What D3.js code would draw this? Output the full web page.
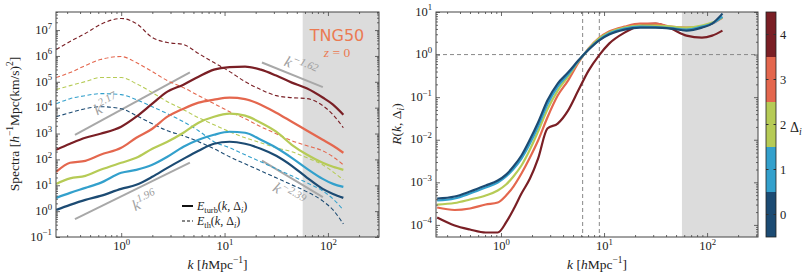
<!DOCTYPE html>
<html><head><meta charset="utf-8">
<script src="https://cdn.jsdelivr.net/npm/d3@7"></script>
<style>body{margin:0;background:#fff} svg{display:block}</style>
</head><body><svg id="c" width="810" height="280"></svg>
<script>
// ---------------- DATA ----------------
const deltas = [0, 1, 2, 3, 4];
const deltaColors = ["#1c4b73", "#33a0cc", "#b6cb56", "#e4674e", "#7a1f25"];

// left panel: spectra
const kSpec = [0.235, 0.32, 0.45, 0.63, 1.0, 1.4, 2.0, 2.8, 4.0, 5.6, 7.9, 11.2, 15.8, 22.4, 31.6, 44.7, 63, 89, 112, 141];
const turb0 = [1.11, 1.74, 2.72, 3.88, 7.25, 10.4, 21.2, 47.2, 105, 215, 403, 481, 403, 258, 138, 56.5, 19.4, 7.25, 4.64, 3.25];
const turb1 = [3.25, 5.07, 7.92, 12.4, 30.3, 39.5, 61.8, 126, 308, 575, 898, 1175, 1075, 575, 282, 115, 43.3, 17.7, 11.3, 8.67];
const turb2 = [11.3, 18.5, 23.1, 39.5, 73.8, 115, 258, 481, 1075, 2620, 4480, 5850, 4900, 2620, 1175, 368, 151, 73.8, 51.7, 39.5];
const turb3 = [33, 74, 88, 151, 282, 687, 1535, 4480, 9140, 15600, 20400, 24400, 21400, 13100, 6400, 2860, 1285, 575, 337, 180];
const turb4 = [236, 403, 687, 982, 1835, 4480, 14300, 41700, 77600, 158000, 295000, 370000, 387000, 295000, 174000, 93000, 55000, 24700, 13200, 5370];
const th0 = [4480, 6400, 9140, 10900, 9140, 4900, 2400, 1285, 822, 481, 258, 126, 67.5, 36.1, 19.4, 10.4, 5.55, 2.48, 1.11, 0.319];
const th1 = [14300, 22300, 29200, 34900, 31900, 20400, 10900, 5850, 2860, 1285, 481, 282, 151, 80.8, 43.3, 23.1, 12.4, 6.07, 2.97, 1.11];
const th2 = [49900, 71300, 102000, 146000, 146000, 85100, 38100, 17100, 8360, 4090, 2190, 1175, 687, 440, 282, 197, 115, 61.8, 33, 16.2];
const th3 = [146000, 228000, 425000, 725000, 948000, 555000, 248000, 111000, 59600, 29200, 14300, 7000, 3750, 1835, 982, 526, 337, 215, 126, 61.8];
const th4 = [1.77e6, 3.61e6, 7.38e6, 1.65e7, 2.82e7, 1.80e7, 5.16e6, 3.30e6, 2.77e6, 1.24e6, 5.55e5, 2.48e5, 1.02e5, 4.99e4, 2.92e4, 2.44e4, 2.23e4, 1.20e4, 5360, 1680];
const turbSeries = [turb0, turb1, turb2, turb3, turb4];
const thSeries = [th0, th1, th2, th3, th4];

// power-law guide lines: exponent, amplitude (value at k=1), k range
const guideSlopes = [2.17, 1.96, -1.62, -2.39];
const guideAmps = [8300, 3.72, 9.0e7, 1.61e5];
const guideK0 = [0.357, 0.357, 23.0, 23.0];
const guideK1 = [4.62, 4.62, 89.3, 89.3];
const guideLabels = ["2.17", "1.96", "\u22121.62", "\u22122.39"];

// right panel: ratio R(k, Δi)
const kR = [0.24, 0.355, 0.5, 0.71, 0.93, 1.12, 1.32, 1.58, 1.91, 2.29, 2.82, 3.55, 4.47, 5.62, 7.08, 8.91, 11.2, 15.8, 22.4, 31.6, 44.7, 63.1, 89.1, 112, 141];
const R0 = [4.17e-4, 4.64e-4, 6.08e-4, 8.41e-4, 1.10e-3, 1.52e-3, 2.35e-3, 4.26e-3, 1.01e-2, 2.54e-2, 8.32e-2, 0.209, 0.378, 0.723, 1.30, 2.13, 2.95, 3.86, 4.30, 4.30, 4.08, 3.66, 4.30, 5.34, 9.17];
const R1 = [3.74e-4, 4.17e-4, 5.46e-4, 7.55e-4, 9.89e-4, 1.37e-3, 2.05e-3, 3.62e-3, 8.14e-3, 2.04e-2, 6.70e-2, 0.177, 0.339, 0.70, 1.33, 2.19, 3.11, 4.08, 4.54, 4.42, 4.19, 3.86, 4.54, 5.34, 7.80];
const R2 = [3.01e-4, 3.27e-4, 3.95e-4, 4.90e-4, 6.42e-4, 8.88e-4, 1.37e-3, 2.48e-3, 5.89e-3, 1.56e-2, 5.12e-2, 0.143, 0.305, 0.68, 1.36, 2.38, 3.28, 4.30, 4.80, 4.80, 4.54, 4.30, 4.80, 5.64, 7.39];
const R3 = [2.56e-4, 2.24e-4, 2.43e-4, 3.01e-4, 3.36e-4, 4.90e-4, 7.97e-4, 1.61e-3, 3.82e-3, 9.57e-3, 3.32e-2, 0.109, 0.245, 0.64, 1.40, 2.45, 3.47, 4.54, 5.34, 5.34, 4.54, 4.30, 4.54, 5.34, 7.39];
const R4 = [1.49e-4, 9.69e-5, 7.80e-5, 6.63e-5, 6.63e-5, 1.14e-4, 2.30e-4, 5.46e-4, 1.23e-3, 3.62e-3, 1.83e-2, 2.40e-2, 4.84e-2, 0.143, 0.421, 0.948, 1.81, 3.28, 4.80, 5.34, 4.08, 2.79, 2.51, 2.79, 3.66];
const RSeries = [R0, R1, R2, R3, R4];
const kCrossLines = [6.2, 9.0];
const RRef = 1;

const kShadeStart = 57;
const xTickExps = [0, 1, 2];
const yLeftTickExps = [-1, 0, 1, 2, 3, 4, 5, 6, 7];
const yRightTickExps = [-4, -3, -2, -1, 0, 1];

// ---------------- LAYOUT ----------------
const serif = "'Liberation Serif','DejaVu Serif',serif";
const svg = d3.select('#c');
const PL = {x0: 56, x1: 379, y0: 12, y1: 237};
const PR = {x0: 436, x1: 758, y0: 12, y1: 237};
const kDomain = [0.234, 312];
const xL = d3.scaleLog().domain(kDomain).range([PL.x0, PL.x1]);
const yL = d3.scaleLog().domain([0.1, 5.0e7]).range([PL.y1, PL.y0]);
const xR = d3.scaleLog().domain(kDomain).range([PR.x0, PR.x1]);
const yR = d3.scaleLog().domain([5.2e-5, 10]).range([PR.y1, PR.y0]);

function rich(sel, parts, base) {
  let cur = 0;
  parts.forEach(p => {
    const ts = sel.append('tspan').text(p.t);
    let off = 0, size = base;
    if (p.sup) { off = -0.42 * base; size = 0.7 * base; }
    if (p.sub) { off = 0.22 * base; size = 0.7 * base; }
    const dy = off - cur;
    if (dy) ts.attr('dy', dy);
    cur = off;
    ts.attr('font-size', size);
    if (p.i) ts.attr('font-style', 'italic');
  });
}
const expStr = e => (e < 0 ? '\u2212' + (-e) : '' + e);

function minorTicks(domain) {
  const out = [];
  const a = Math.floor(Math.log10(domain[0])), b = Math.ceil(Math.log10(domain[1]));
  for (let e = a; e <= b; e++) for (let m = 2; m <= 9; m++) {
    const v = m * Math.pow(10, e);
    if (v >= domain[0] && v <= domain[1]) out.push(v);
  }
  return out;
}

function drawFrame(P, x, y, yExps) {
  const g = svg.append('g');
  const xMaj = xTickExps.map(e => Math.pow(10, e));
  const yMaj = yExps.map(e => Math.pow(10, e));
  const xMin = minorTicks(x.domain()), yMin = minorTicks(y.domain());
  const style = s => { s.select('.domain').remove(); s.selectAll('line').attr('stroke', '#444').attr('stroke-width', 0.8); };
  g.append('g').attr('transform', `translate(0,${P.y1})`).call(d3.axisBottom(x).tickValues(xMin).tickSize(-2).tickFormat('')).call(style);
  const bx = g.append('g').attr('transform', `translate(0,${P.y1})`).call(d3.axisBottom(x).tickValues(xMaj).tickSize(-4).tickPadding(6)).call(style);
  bx.selectAll('.tick text').each(function (d) {
    const t = d3.select(this); t.text(null).attr('font-family', serif).attr('fill', '#222');
    rich(t, [{t: '10'}, {t: expStr(Math.round(Math.log10(d))), sup: true}], 12.5);
  });
  g.append('g').attr('transform', `translate(0,${P.y0})`).call(d3.axisTop(x).tickValues(xMin).tickSize(-2).tickFormat('')).call(style);
  g.append('g').attr('transform', `translate(0,${P.y0})`).call(d3.axisTop(x).tickValues(xMaj).tickSize(-4).tickFormat('')).call(style);
  g.append('g').attr('transform', `translate(${P.x0},0)`).call(d3.axisLeft(y).tickValues(yMin).tickSize(-2).tickFormat('')).call(style);
  const ly = g.append('g').attr('transform', `translate(${P.x0},0)`).call(d3.axisLeft(y).tickValues(yMaj).tickSize(-4).tickPadding(4)).call(style);
  ly.selectAll('.tick text').each(function (d) {
    const t = d3.select(this); t.text(null).attr('font-family', serif).attr('fill', '#222');
    rich(t, [{t: '10'}, {t: expStr(Math.round(Math.log10(d))), sup: true}], 12.5);
  });
  g.append('g').attr('transform', `translate(${P.x1},0)`).call(d3.axisRight(y).tickValues(yMin).tickSize(-2).tickFormat('')).call(style);
  g.append('g').attr('transform', `translate(${P.x1},0)`).call(d3.axisRight(y).tickValues(yMaj).tickSize(-4).tickFormat('')).call(style);
  g.append('rect').attr('x', P.x0).attr('y', P.y0).attr('width', P.x1 - P.x0).attr('height', P.y1 - P.y0)
    .attr('fill', 'none').attr('stroke', '#444').attr('stroke-width', 1);
}

function clip(id, P) {
  svg.append('clipPath').attr('id', id).append('rect')
    .attr('x', P.x0).attr('y', P.y0).attr('width', P.x1 - P.x0).attr('height', P.y1 - P.y0);
}
clip('cl', PL); clip('cr', PR);

// ---------- LEFT PANEL ----------
const gL = svg.append('g').attr('clip-path', 'url(#cl)');
gL.append('rect').attr('x', xL(kShadeStart)).attr('y', PL.y0).attr('width', PL.x1 - xL(kShadeStart)).attr('height', PL.y1 - PL.y0).attr('fill', '#dcdcdc');

guideSlopes.forEach((s, i) => {
  const f = k => guideAmps[i] * Math.pow(k, s);
  const p0 = [xL(guideK0[i]), yL(f(guideK0[i]))], p1 = [xL(guideK1[i]), yL(f(guideK1[i]))];
  gL.append('line').attr('x1', p0[0]).attr('y1', p0[1]).attr('x2', p1[0]).attr('y2', p1[1])
    .attr('stroke', '#a8a8a8').attr('stroke-width', 2);
});

const lineL = arr => d3.line().x((d, j) => xL(kSpec[j])).y(d => yL(d)).curve(d3.curveMonotoneX)(arr);
[4, 3, 2, 1, 0].forEach(i => {
  gL.append('path').attr('d', lineL(thSeries[i])).attr('fill', 'none').attr('stroke', deltaColors[i])
    .attr('stroke-width', 1.1).attr('stroke-dasharray', '4,2.5');
});
[4, 3, 2, 1, 0].forEach(i => {
  gL.append('path').attr('d', lineL(turbSeries[i])).attr('fill', 'none').attr('stroke', deltaColors[i])
    .attr('stroke-width', 2.2);
});

const guideT = [0.32, 0.55, 0.57, 0.57];
const guideOff = [-12, 14, -11, 15];
guideSlopes.forEach((s, i) => {
  const f = k => guideAmps[i] * Math.pow(k, s);
  const p0 = [xL(guideK0[i]), yL(f(guideK0[i]))], p1 = [xL(guideK1[i]), yL(f(guideK1[i]))];
  const ang = Math.atan2(p1[1] - p0[1], p1[0] - p0[0]);
  const cx = p0[0] + (p1[0] - p0[0]) * guideT[i] - Math.sin(ang) * guideOff[i];
  const cy = p0[1] + (p1[1] - p0[1]) * guideT[i] + Math.cos(ang) * guideOff[i];
  const t = svg.append('text').attr('transform', `translate(${cx},${cy}) rotate(${ang * 180 / Math.PI})`)
    .attr('text-anchor', 'middle').attr('dy', '0.35em').attr('font-family', serif).attr('fill', '#a0a0a0');
  rich(t, [{t: 'k', i: true}, {t: guideLabels[i], sup: true, i: true}], 15.5);
});

drawFrame(PL, xL, yL, yLeftTickExps);

svg.append('text').attr('x', 337).attr('y', 41).attr('text-anchor', 'middle').attr('font-family', "'DejaVu Sans',sans-serif")
  .attr('font-size', 16).attr('fill', '#eb7a52').text('TNG50');
const zt = svg.append('text').attr('x', 337).attr('y', 57).attr('text-anchor', 'middle').attr('font-family', serif).attr('fill', '#eb7a52');
rich(zt, [{t: 'z', i: true}, {t: ' = 0'}], 13.5);

const legend = [{dash: null, parts: [{t: 'E', i: true}, {t: 'turb', sub: true}, {t: '('}, {t: 'k', i: true}, {t: ', \u0394'}, {t: 'i', sub: true, i: true}, {t: ')'}]},
  {dash: '3,2', parts: [{t: 'E', i: true}, {t: 'th', sub: true}, {t: '('}, {t: 'k', i: true}, {t: ', \u0394'}, {t: 'i', sub: true, i: true}, {t: ')'}]}];
legend.forEach((L, j) => {
  const yy = 206 + j * 15;
  svg.append('line').attr('x1', 182).attr('x2', 193).attr('y1', yy).attr('y2', yy).attr('stroke', '#111')
    .attr('stroke-width', L.dash ? 1.1 : 2).attr('stroke-dasharray', L.dash);
  const t = svg.append('text').attr('x', 197).attr('y', yy + 4).attr('font-family', serif).attr('fill', '#222');
  rich(t, L.parts, 12);
});

const ylab = svg.append('text').attr('transform', 'translate(19,124) rotate(-90)').attr('text-anchor', 'middle').attr('font-family', serif).attr('fill', '#222');
rich(ylab, [{t: 'Spectra ['}, {t: 'h', i: true}, {t: '\u22121', sup: true}, {t: 'Mpc(km/s)'}, {t: '2', sup: true}, {t: ']'}], 13.5);
const xlab1 = svg.append('text').attr('x', (PL.x0 + PL.x1) / 2).attr('y', 269).attr('text-anchor', 'middle').attr('font-family', serif).attr('fill', '#222');
rich(xlab1, [{t: 'k', i: true}, {t: ' ['}, {t: 'h', i: true}, {t: 'Mpc'}, {t: '\u22121', sup: true}, {t: ']'}], 13.5);

// ---------- RIGHT PANEL ----------
const gR = svg.append('g').attr('clip-path', 'url(#cr)');
gR.append('rect').attr('x', xR(kShadeStart)).attr('y', PR.y0).attr('width', PR.x1 - xR(kShadeStart)).attr('height', PR.y1 - PR.y0).attr('fill', '#dcdcdc');
gR.append('line').attr('x1', PR.x0).attr('x2', PR.x1).attr('y1', yR(RRef)).attr('y2', yR(RRef))
  .attr('stroke', '#888').attr('stroke-width', 1).attr('stroke-dasharray', '4,3');
kCrossLines.forEach(k => gR.append('line').attr('x1', xR(k)).attr('x2', xR(k)).attr('y1', PR.y0).attr('y2', PR.y1)
  .attr('stroke', '#888').attr('stroke-width', 1).attr('stroke-dasharray', '4,3'));
const lineR = arr => d3.line().x((d, j) => xR(kR[j])).y(d => yR(d)).curve(d3.curveMonotoneX)(arr);
[4, 3, 2, 1, 0].forEach(i => {
  gR.append('path').attr('d', lineR(RSeries[i])).attr('fill', 'none').attr('stroke', deltaColors[i]).attr('stroke-width', 2.2);
});
drawFrame(PR, xR, yR, yRightTickExps);

const ylab2 = svg.append('text').attr('transform', 'translate(401,124) rotate(-90)').attr('text-anchor', 'middle').attr('font-family', serif).attr('fill', '#222');
rich(ylab2, [{t: 'R', i: true}, {t: '('}, {t: 'k', i: true}, {t: ', \u0394'}, {t: 'i', sub: true, i: true}, {t: ')'}], 13.5);
const xlab2 = svg.append('text').attr('x', (PR.x0 + PR.x1) / 2).attr('y', 269).attr('text-anchor', 'middle').attr('font-family', serif).attr('fill', '#222');
rich(xlab2, [{t: 'k', i: true}, {t: ' ['}, {t: 'h', i: true}, {t: 'Mpc'}, {t: '\u22121', sup: true}, {t: ']'}], 13.5);

// ---------- COLORBAR ----------
const CB = {x0: 766, x1: 776, y0: 12, y1: 237};
const yCB = d3.scaleBand().domain([4, 3, 2, 1, 0]).range([CB.y0, CB.y1]);
const gC = svg.append('g');
deltas.forEach(d => {
  gC.append('rect').attr('x', CB.x0).attr('y', yCB(d)).attr('width', CB.x1 - CB.x0).attr('height', yCB.bandwidth()).attr('fill', deltaColors[d]);
  const yc = yCB(d) + yCB.bandwidth() / 2;
  gC.append('line').attr('x1', CB.x0).attr('x2', CB.x0 + 2.5).attr('y1', yc).attr('y2', yc).attr('stroke', '#333');
  gC.append('line').attr('x1', CB.x1 - 2.5).attr('x2', CB.x1).attr('y1', yc).attr('y2', yc).attr('stroke', '#333');
  gC.append('text').attr('x', CB.x1 + 4).attr('y', yc).attr('dy', '0.35em').attr('font-family', serif).attr('font-size', 12.5).attr('fill', '#222').text(d);
});
gC.append('rect').attr('x', CB.x0).attr('y', CB.y0).attr('width', CB.x1 - CB.x0).attr('height', CB.y1 - CB.y0).attr('fill', 'none').attr('stroke', '#222').attr('stroke-width', 0.8);
const dl = svg.append('text').attr('x', 790).attr('y', 132).attr('font-family', serif).attr('fill', '#222');
rich(dl, [{t: '\u0394'}, {t: 'i', sub: true, i: true}], 14);
</script></body></html>
